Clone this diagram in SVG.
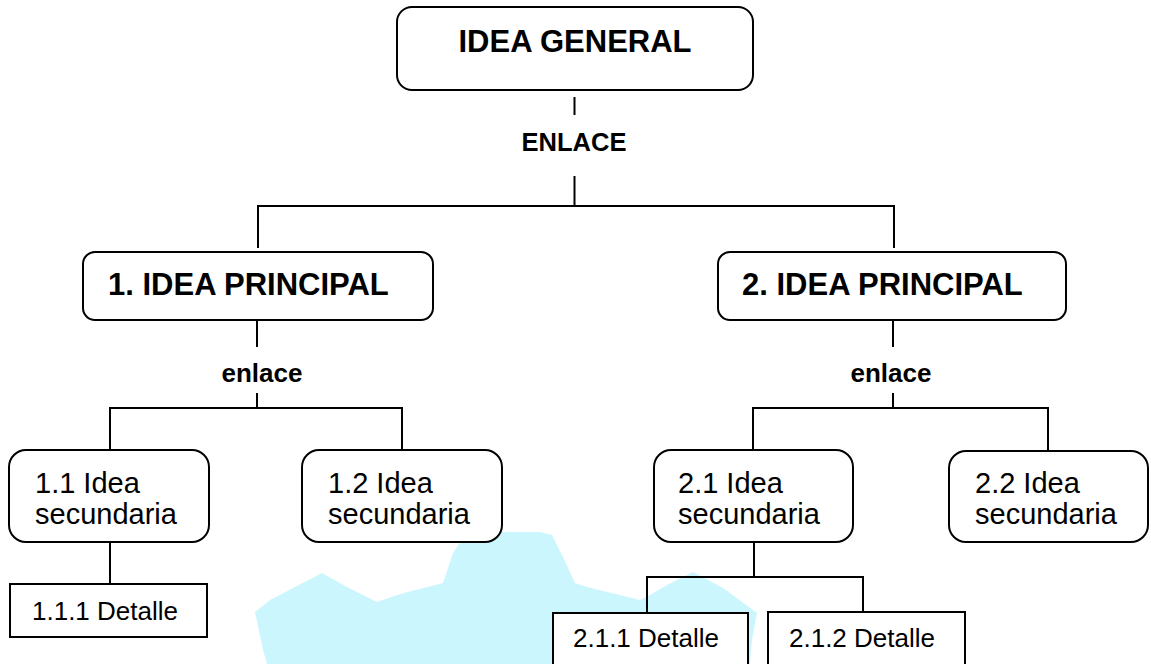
<svg xmlns="http://www.w3.org/2000/svg" width="1151" height="664" viewBox="0 0 1151 664">
  <style>
    .box { fill: #ffffff; stroke: #000000; stroke-width: 2; }
    .line { fill: none; stroke: #000000; stroke-width: 2; }
    .title { font-family: "Liberation Sans", Arial, sans-serif; font-weight: bold; font-size: 31px; fill: #000000; }
    .link { font-family: "Liberation Sans", Arial, sans-serif; font-weight: bold; fill: #000000; text-anchor: middle; }
    .sub { font-family: "Liberation Sans", Arial, sans-serif; font-size: 29px; fill: #000000; }
    .detail { font-family: "Liberation Sans", Arial, sans-serif; font-size: 26px; fill: #000000; }
  </style>

  <rect width="1151" height="664" fill="#ffffff"/>

  <!-- pale cyan background shape -->
  <polygon fill="#ccf6fd" points="255,612 270,600 322,573 345,586 377,602 400,594 443,583 453,553 467,532 540,532 552,535 563,557 575,583 587,587 640,600 650,595 667,585 693,572 723,588 757,613 752,640 750,664 267,664 263,650"/>

  <!-- connectors -->
  <g id="connectors">
    <line class="line" x1="574.5" y1="97" x2="574.5" y2="115"/>
    <line class="line" x1="574.5" y1="176" x2="574.5" y2="207"/>
    <polyline class="line" points="258,248 258,206 894,206 894,248"/>

    <line class="line" x1="257" y1="321" x2="257" y2="347"/>
    <line class="line" x1="257" y1="393" x2="257" y2="408"/>
    <polyline class="line" points="110,450 110,408 402,408 402,450"/>
    <line class="line" x1="110" y1="542" x2="110" y2="584"/>

    <line class="line" x1="893" y1="320" x2="893" y2="347"/>
    <line class="line" x1="893" y1="393" x2="893" y2="408"/>
    <polyline class="line" points="753,450 753,408 1048,408 1048,451"/>
    <line class="line" x1="754" y1="542" x2="754" y2="577"/>
    <polyline class="line" points="647,613 647,577 863,577 863,612"/>

    <text class="link" x="574" y="151" font-size="25.5">ENLACE</text>
    <text class="link" x="262" y="382" font-size="26">enlace</text>
    <text class="link" x="891" y="382" font-size="26">enlace</text>
  </g>

  <g id="idea-general">
    <rect class="box" x="397" y="7" width="356" height="83" rx="15"/>
    <text class="title" x="575" y="52" text-anchor="middle">IDEA GENERAL</text>
  </g>

  <g id="idea-principal-1">
    <rect class="box" x="83" y="252" width="350" height="68" rx="12"/>
    <text class="title" x="108" y="295">1. IDEA PRINCIPAL</text>
  </g>

  <g id="idea-principal-2">
    <rect class="box" x="718" y="252" width="348" height="68" rx="12"/>
    <text class="title" x="742" y="295">2. IDEA PRINCIPAL</text>
  </g>

  <g id="idea-secundaria-1-1">
    <rect class="box" x="9" y="450" width="200" height="92" rx="17"/>
    <text class="sub" x="35" y="493">1.1 Idea</text>
    <text class="sub" x="35" y="524">secundaria</text>
  </g>

  <g id="idea-secundaria-1-2">
    <rect class="box" x="302" y="450" width="200" height="92" rx="17"/>
    <text class="sub" x="328" y="493">1.2 Idea</text>
    <text class="sub" x="328" y="524">secundaria</text>
  </g>

  <g id="idea-secundaria-2-1">
    <rect class="box" x="654" y="450" width="199" height="92" rx="17"/>
    <text class="sub" x="678" y="493">2.1 Idea</text>
    <text class="sub" x="678" y="524">secundaria</text>
  </g>

  <g id="idea-secundaria-2-2">
    <rect class="box" x="949" y="451" width="199" height="91" rx="17"/>
    <text class="sub" x="975" y="493">2.2 Idea</text>
    <text class="sub" x="975" y="524">secundaria</text>
  </g>

  <g id="detalle-1-1-1">
    <rect class="box" x="10" y="584" width="197" height="53"/>
    <text class="detail" x="32" y="620">1.1.1 Detalle</text>
  </g>

  <g id="detalle-2-1-1">
    <rect class="box" x="553" y="613" width="195" height="60"/>
    <text class="detail" x="573" y="647">2.1.1 Detalle</text>
  </g>

  <g id="detalle-2-1-2">
    <rect class="box" x="768" y="612" width="197" height="60"/>
    <text class="detail" x="789" y="647">2.1.2 Detalle</text>
  </g>
</svg>
